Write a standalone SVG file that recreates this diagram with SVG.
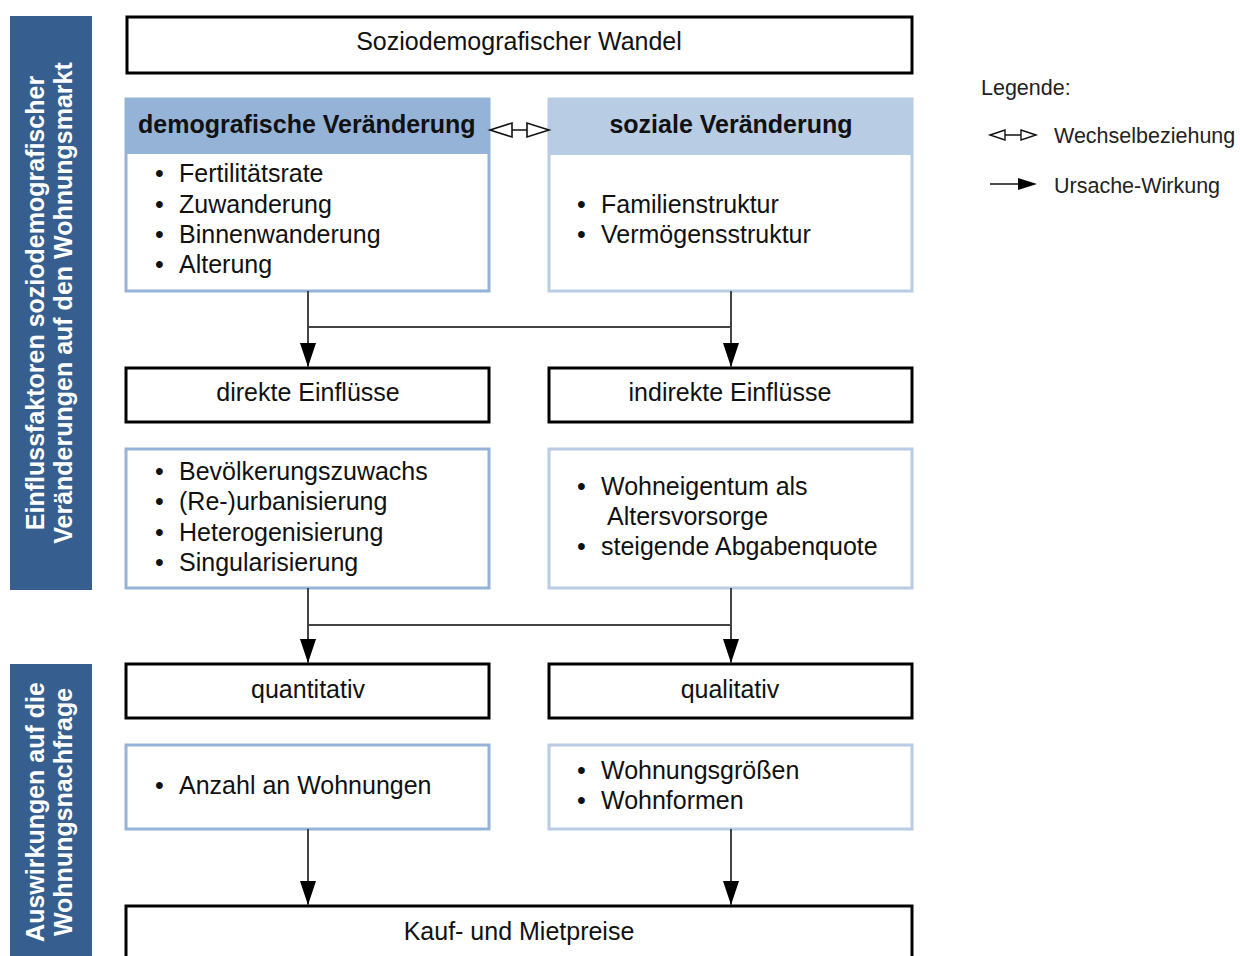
<svg xmlns="http://www.w3.org/2000/svg" width="1240" height="956" viewBox="0 0 1240 956">
<style>
text{font-family:"Liberation Sans",Arial,sans-serif;fill:#111}
.t{font-size:25px}
.b{font-size:25px;font-weight:bold}
.c{text-anchor:middle}
.side{fill:#fff;font-size:25px;font-weight:bold;text-anchor:middle}
.blk{fill:#fff;stroke:#000;stroke-width:3}
.lb1{fill:#fff;stroke:#95b3d7;stroke-width:3}
.lb2{fill:#fff;stroke:#b8cce4;stroke-width:3}
.con{stroke:#444;stroke-width:2;fill:none}
.lg{font-size:21.5px;fill:#222}
</style>
<defs>
<marker id="ah" markerWidth="24" markerHeight="16" refX="24" refY="8" orient="auto" markerUnits="userSpaceOnUse" viewBox="0 0 24 16">
<path d="M0,0 L24,8 L0,16 Z" fill="#000"/>
</marker>
</defs>
<rect width="1240" height="956" fill="#fff"/>

<g id="panel1">
<rect x="10" y="16" width="82" height="574" fill="#365f8f"/>
<text class="side" transform="translate(44,303) rotate(-90)"><tspan x="0" y="0">Einflussfaktoren soziodemografischer</tspan><tspan x="0" y="28">Veränderungen auf den Wohnungsmarkt</tspan></text>
</g>
<g id="panel2">
<rect x="10" y="664" width="82" height="300" fill="#365f8f"/>
<text class="side" transform="translate(44,812) rotate(-90)"><tspan x="0" y="0">Auswirkungen auf die</tspan><tspan x="0" y="28">Wohnungsnachfrage</tspan></text>
</g>

<g id="wandel">
<rect class="blk" x="127" y="17" width="785" height="56"/>
<text class="t c" x="519" y="50">Soziodemografischer Wandel</text>
</g>

<g id="demo">
<rect class="lb1" x="126" y="99" width="363" height="192"/>
<rect x="126" y="99" width="363" height="55" fill="#95b3d7"/>
<text class="b" x="138" y="133">demografische Veränderung</text>
<text class="t" x="155" y="182">•</text><text class="t" x="179" y="182">Fertilitätsrate</text>
<text class="t" x="155" y="213">•</text><text class="t" x="179" y="213">Zuwanderung</text>
<text class="t" x="155" y="243">•</text><text class="t" x="179" y="243">Binnenwanderung</text>
<text class="t" x="155" y="273">•</text><text class="t" x="179" y="273">Alterung</text>
</g>

<g id="sozial">
<rect class="lb2" x="549" y="99" width="363" height="192"/>
<rect x="549" y="99" width="363" height="56" fill="#b8cce4"/>
<text class="b c" x="731" y="133">soziale Veränderung</text>
<text class="t" x="577" y="213">•</text><text class="t" x="601" y="213">Familienstruktur</text>
<text class="t" x="577" y="243">•</text><text class="t" x="601" y="243">Vermögensstruktur</text>
</g>

<g id="direkt">
<rect class="blk" x="126" y="368" width="363" height="54"/>
<text class="t c" x="308" y="401">direkte Einflüsse</text>
</g>
<g id="indirekt">
<rect class="blk" x="549" y="368" width="363" height="54"/>
<text class="t c" x="730" y="401">indirekte Einflüsse</text>
</g>

<g id="direktliste">
<rect class="lb1" x="126" y="449" width="363" height="139"/>
<text class="t" x="155" y="480">•</text><text class="t" x="179" y="480">Bevölkerungszuwachs</text>
<text class="t" x="155" y="510">•</text><text class="t" x="179" y="510">(Re-)urbanisierung</text>
<text class="t" x="155" y="541">•</text><text class="t" x="179" y="541">Heterogenisierung</text>
<text class="t" x="155" y="571">•</text><text class="t" x="179" y="571">Singularisierung</text>
</g>
<g id="indirektliste">
<rect class="lb2" x="549" y="449" width="363" height="139"/>
<text class="t" x="577" y="495">•</text><text class="t" x="601" y="495">Wohneigentum als</text>
<text class="t" x="607" y="525">Altersvorsorge</text>
<text class="t" x="577" y="555">•</text><text class="t" x="601" y="555">steigende Abgabenquote</text>
</g>

<g id="quantitativ">
<rect class="blk" x="126" y="664" width="363" height="54"/>
<text class="t c" x="308" y="698">quantitativ</text>
</g>
<g id="qualitativ">
<rect class="blk" x="549" y="664" width="363" height="54"/>
<text class="t c" x="730" y="698">qualitativ</text>
</g>

<g id="quantliste">
<rect class="lb1" x="126" y="745" width="363" height="84"/>
<text class="t" x="155" y="794">•</text><text class="t" x="179" y="794">Anzahl an Wohnungen</text>
</g>
<g id="qualliste">
<rect class="lb2" x="549" y="745" width="363" height="84"/>
<text class="t" x="577" y="779">•</text><text class="t" x="601" y="779">Wohnungsgrößen</text>
<text class="t" x="577" y="809">•</text><text class="t" x="601" y="809">Wohnformen</text>
</g>

<g id="preise">
<rect class="blk" x="126" y="906" width="786" height="70"/>
<text class="t c" x="519" y="940">Kauf- und Mietpreise</text>
</g>

<g id="connectors">
<path class="con" d="M308,291 V367" marker-end="url(#ah)"/>
<path class="con" d="M731,291 V367" marker-end="url(#ah)"/>
<path class="con" d="M308,327 H731"/>
<path class="con" d="M308,588 V663" marker-end="url(#ah)"/>
<path class="con" d="M731,588 V663" marker-end="url(#ah)"/>
<path class="con" d="M308,625 H731"/>
<path class="con" d="M308,829 V905" marker-end="url(#ah)"/>
<path class="con" d="M731,829 V905" marker-end="url(#ah)"/>
<g fill="#fff" stroke="#111" stroke-width="1.6">
<path d="M491,130 H548" fill="none"/>
<path d="M490,130 L512,123 V137 Z"/>
<path d="M549,130 L527,123 V137 Z"/>
</g>
</g>

<g id="legende">
<text class="lg" x="981" y="95">Legende:</text>
<g fill="#fff" stroke="#111" stroke-width="1.4">
<path d="M990,135 H1036" fill="none"/>
<path d="M990,135 L1005,130 V140 Z"/>
<path d="M1036,135 L1021,130 V140 Z"/>
</g>
<text class="lg" x="1054" y="143">Wechselbeziehung</text>
<path d="M990,184 H1022" stroke="#111" stroke-width="1.5"/>
<path d="M1018,178 L1037,184 L1018,190 Z" fill="#000"/>
<text class="lg" x="1054" y="193">Ursache-Wirkung</text>
</g>
</svg>
